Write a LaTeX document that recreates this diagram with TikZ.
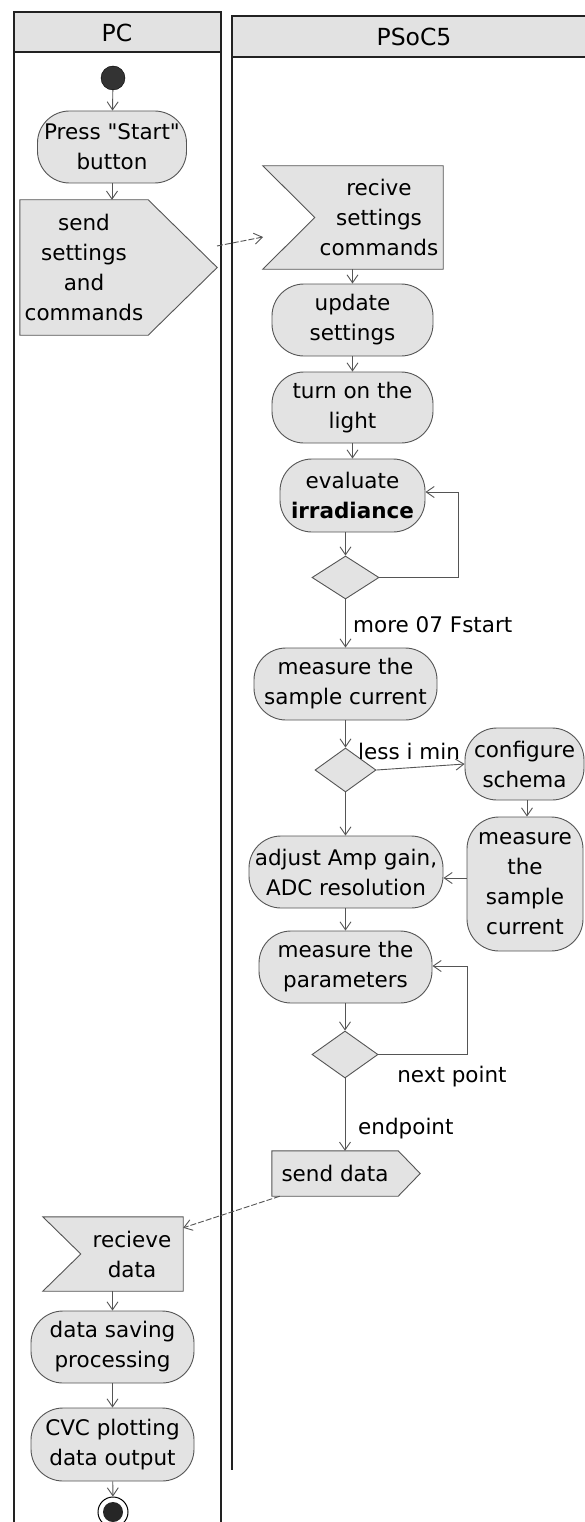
\documentclass[tikz,border=0pt]{standalone}
\usepackage{fontspec}
\setmainfont{DejaVu Sans}[Ligatures=TeXOff]
\usetikzlibrary{arrows.meta,shapes.geometric,calc}
\definecolor{nodefill}{HTML}{E3E3E3}
\definecolor{nodeline}{HTML}{555555}
\definecolor{lanefill}{HTML}{E2E2E2}
\definecolor{lanecol}{HTML}{222222}
\begin{document}
\begin{tikzpicture}[x=1pt,y=-1pt,
  every node/.style={font=\fontsize{21.5}{30}\selectfont, align=center, inner sep=0pt},
  action/.style={draw=nodeline, fill=nodefill, rectangle, rounded corners=32pt, line width=0.9pt},
  sigbox/.style={rectangle},
  sigshape/.style={draw=nodeline, fill=nodefill, line width=0.9pt},
  decide/.style={draw=nodeline, fill=nodefill, diamond, line width=0.9pt},
  flow/.style={draw=nodeline, line width=0.9pt, -{Straight Barb[length=8pt,width=11pt]}},
  sigflow/.style={flow, dash pattern=on 6pt off 2pt},
  lane/.style={draw=lanecol, line width=1.8pt},
  lanehead/.style={draw=lanecol, fill=lanefill, line width=1.8pt},
  headtext/.style={font=\fontsize{23.5}{28}\selectfont},
  guard/.style={anchor=west}
]
\clip (0,0) rectangle (585,1522);
\fill[white] (0,0) rectangle (585,1522);

% swimlanes
\draw[lanehead] (14,12) rectangle (221,52);
\draw[lane] (14,12) -- (14,1530);
\draw[lane] (221,12) -- (221,1530);
\node[headtext] (pc) at (117,33) {PC};
\draw[lanehead] (232,16) rectangle (600,57);
\draw[lane] (232,16) -- (232,1470);
\node[headtext] (psoc) at (414,37) {PSoC5};

% PC lane nodes
\node[circle, fill=black!80, draw=black, minimum size=24pt] (start) at (113,78) {};
\node[action, minimum width=149pt, minimum height=72pt] (press) at (112,147) {Press "Start"\\button};
\node[sigbox, minimum width=128pt, minimum height=135pt] (send1) at (84,267.5) {};

% PSoC lane nodes
\node[sigbox, minimum width=128pt, minimum height=103pt] (recv1) at (379,217.5) {};
\node[action, minimum width=161pt, minimum height=72pt] (update) at (352.5,320) {update\\settings};
\node[action, minimum width=161pt, minimum height=71pt] (light) at (352.5,407.5) {turn on the\\light};
\node[action, minimum width=145pt, minimum height=73pt] (eval) at (352.5,495.5) {evaluate\\\textbf{irradiance}};
\node[decide, minimum width=67pt, minimum height=43pt] (d1) at (345.5,577.5) {};
\node[action, minimum width=183pt, minimum height=72pt] (meas1) at (345.5,684) {measure the\\sample current};
\node[decide, minimum width=61pt, minimum height=44pt] (d2) at (345.5,770) {};
\node[action, minimum width=119pt, minimum height=72pt] (conf) at (524.5,764) {configure\\schema};
\node[action, minimum width=116pt, minimum height=134pt] (meas2) at (525,884) {measure\\the\\sample\\current};
\node[action, minimum width=194pt, minimum height=72pt] (adjust) at (346,872) {adjust Amp gain,\\ADC resolution};
\node[action, minimum width=173pt, minimum height=72pt] (params) at (345.5,967) {measure the\\parameters};
\node[decide, minimum width=66pt, minimum height=47pt] (d3) at (345,1054.5) {};
\node[sigbox, minimum width=126pt, minimum height=45pt] (send2) at (335,1173.5) {};

% PC lane lower nodes
\node[sigbox, minimum width=102pt, minimum height=74pt] (recv2) at (132,1254) {};
\node[action, minimum width=163pt, minimum height=72pt] (save) at (112.5,1347) {data saving\\processing};
\node[action, minimum width=163pt, minimum height=73pt] (cvc) at (112.5,1444.5) {CVC plotting\\data output};
\node[circle, draw=black, line width=1pt, fill=white, minimum size=30pt] (end) at (113,1512) {};
\node[circle, fill=black!85, minimum size=20pt] (endin) at (end) {};

% signal shapes drawn behind their text
\path[sigshape] (send1.north west) -- (send1.north east) -- ($(send1.east)+(69,0)$) -- (send1.south east) -- (send1.south west) -- cycle;
\path[sigshape] (send2.north west) -- (send2.north east) -- ($(send2.east)+(22,0)$) -- (send2.south east) -- (send2.south west) -- cycle;
\path[sigshape] (recv1.north east) -- (recv1.south east) -- ($(recv1.south west)+(-52,0)$) -- (recv1.west) -- ($(recv1.north west)+(-52,0)$) -- cycle;
\path[sigshape] (recv2.north east) -- (recv2.south east) -- ($(recv2.south west)+(-38,0)$) -- (recv2.west) -- ($(recv2.north west)+(-38,0)$) -- cycle;
\node (send1t) at (send1) {send\\settings\\and\\commands};
\node (send2t) at (send2) {send data};
\node (recv1t) at (recv1) {recive\\settings\\commands};
\node (recv2t) at (recv2) {recieve\\data};

% coordinates for free connector ends
\coordinate (s1out) at (217,246);
\coordinate (r1in) at (263,237);
\coordinate (loop1) at (458,492);
\coordinate (loop3) at (467,966);

% flows
\draw[flow] (start) -- (press);
\draw[flow] (press.south) -- (press.south |- send1.north);
\draw[sigflow] (s1out) -- (r1in);
\draw[flow] (recv1.south -| update.north) -- (update.north);
\draw[flow] (update) -- (light);
\draw[flow] (light) -- (eval);
\draw[flow] (eval.south -| d1.north) -- (d1.north);
\draw[flow] (d1.east) -| (loop1) -- (loop1 -| eval.east);
\draw[flow] (d1.south) -- (meas1.north);
\node[guard] (g1) at (353,625) {more 07 Fstart};
\draw[flow] (meas1.south) -- (d2.north);
\draw[flow] (d2.east) -- (conf.west);
\node (g2) at (409,751) {less i min};
\draw[flow] (conf.south -| 527,0) -- (meas2.north -| 527,0);
\draw[flow] ($(meas2.west)+(0,-6)$) -- ($(adjust.east)+(0,6)$);
\draw[flow] (d2.south) -- (adjust.north -| d2.south);
\draw[flow] (adjust.south -| params.north) -- (params.north);
\draw[flow] (params.south -| d3.north) -- (d3.north);
\draw[flow] (d3.east) -| (loop3) -- (loop3 -| params.east);
\node (g3) at (452,1077) {next point};
\draw[flow] (d3.south) -- (d3.south |- send2.north);
\node[guard] (g4) at (358,1129) {endpoint};
\draw[sigflow] ($(send2.south west)+(8,0)$) -- ($(recv2.north east)+(0,11)$);
\draw[flow] (recv2.south -| save.north) -- (save.north);
\draw[flow] (save) -- (cvc);
\draw[flow] (cvc) -- (end);
\end{tikzpicture}
\end{document}
